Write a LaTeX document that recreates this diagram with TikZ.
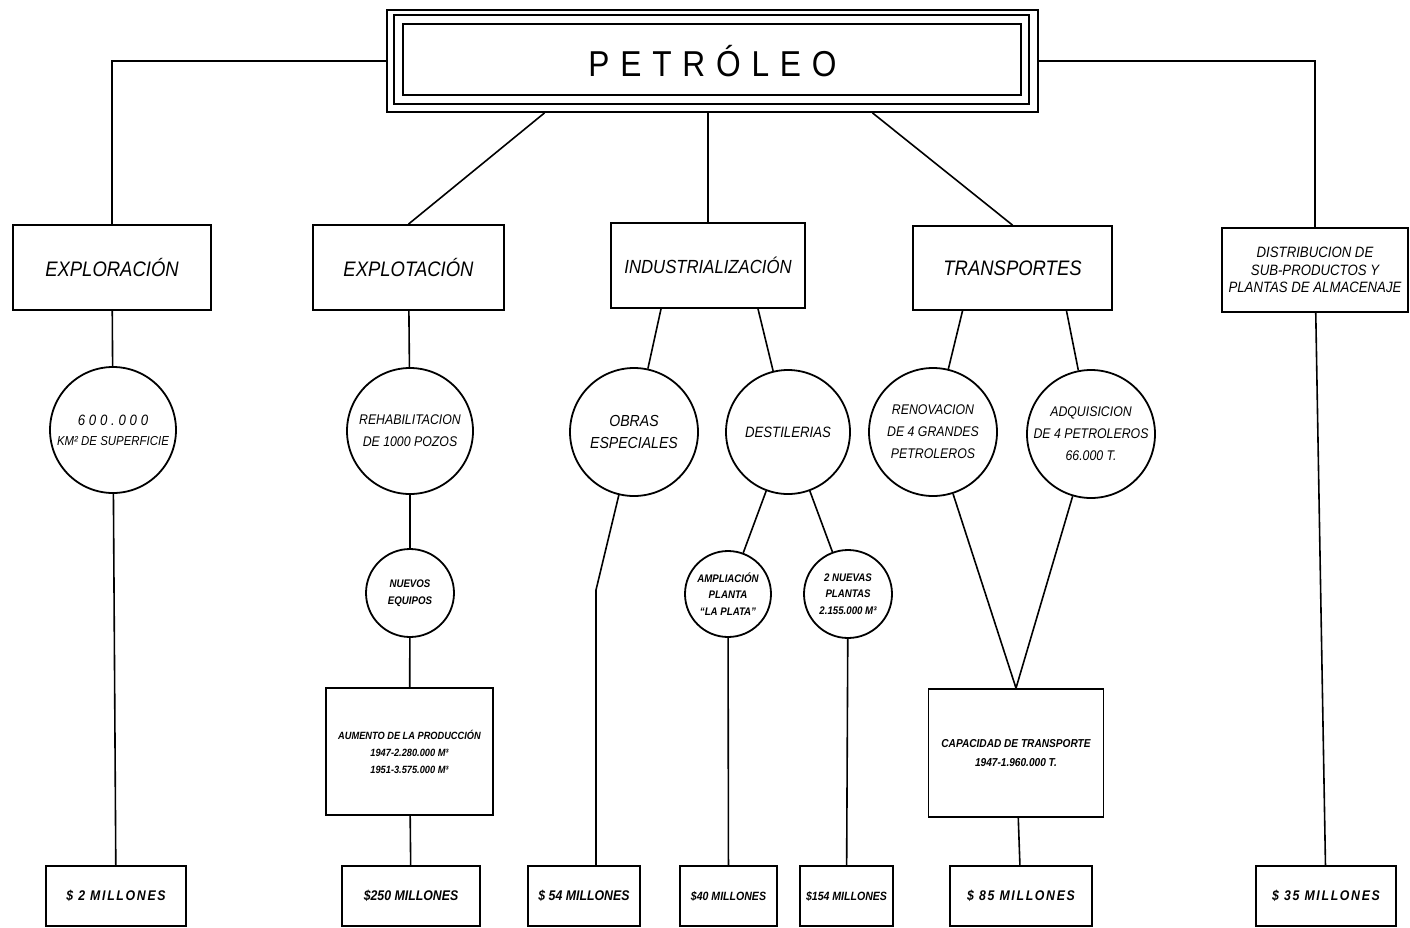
\documentclass[tikz,border=0pt]{standalone}
\usepackage{fontspec}
\newfontfamily\rotulo[FakeStretch=0.88]{Liberation Sans}
\usepackage{tikz}

\begin{document}
\begin{tikzpicture}[
        x=1pt, y=-1pt,
        caja/.style={rectangle, draw=black, line width=1.8pt, inner sep=0pt, align=center, font=\rotulo\itshape\fontsize{21}{24}\selectfont},
        circulo/.style={circle, draw=black, line width=1.8pt, inner sep=0pt, align=center, font=\rotulo\itshape\fontsize{14}{22}\selectfont},
        chico/.style={circulo, font=\rotulo\bfseries\itshape\fontsize{11}{16.5}\selectfont},
        monto/.style={caja, minimum height=60pt, font=\rotulo\bfseries\itshape\fontsize{14}{17}\selectfont},
        espaciado/.style={font=\rotulo\bfseries\itshape\addfontfeatures{LetterSpace=12}\fontsize{14}{17}\selectfont},
        linea/.style={line width=1.6pt}
    ]
    \useasboundingbox (0,0) rectangle (1410,927);

        \node[caja, minimum width=651pt, minimum height=102pt, font=\rotulo\addfontfeatures{LetterSpace=30}\fontsize{36}{40}\selectfont] (petroleo) at (712.5,61) {PETRÓLEO};
        \draw[line width=1.4pt] ([shift={(8,-9)}]petroleo.south west) rectangle ([shift={(-10,6)}]petroleo.north east);
        \draw[line width=2.6pt] ([shift={(17,-18)}]petroleo.south west) rectangle ([shift={(-18,15)}]petroleo.north east);

        \node[caja, minimum width=198pt, minimum height=85pt] (exploracion) at (112,267.5) {EXPLORACIÓN};
        \node[caja, minimum width=191pt, minimum height=85pt] (explotacion) at (408.5,267.5) {EXPLOTACIÓN};
        \node[caja, minimum width=194pt, minimum height=85pt, font=\rotulo\itshape\fontsize{19}{22}\selectfont] (industrial) at (708,265.5) {INDUSTRIALIZACIÓN};
        \node[caja, minimum width=199pt, minimum height=84pt] (transportes) at (1012.5,268) {TRANSPORTES};
        \node[caja, minimum width=186pt, minimum height=84pt, font=\rotulo\itshape\fontsize{15}{17.5}\selectfont] (distribucion) at (1315,270) {DISTRIBUCION DE\\SUB-PRODUCTOS Y\\PLANTAS DE ALMACENAJE};

        \node[circulo, minimum size=126pt, font=\rotulo\itshape\fontsize{13}{20}\selectfont] (superficie) at (113,430) {{\addfontfeatures{LetterSpace=25}\fontsize{15}{20}\selectfont 600.000}\\KM² DE SUPERFICIE};
        \node[circulo, minimum size=126pt] (rehab) at (410,431) {REHABILITACION\\DE 1000 POZOS};
        \node[chico, minimum size=88pt, font=\rotulo\bfseries\itshape\fontsize{11}{17}\selectfont] (equipos) at (410,593) {NUEVOS\\EQUIPOS};
        \node[caja, minimum width=167pt, minimum height=127pt, font=\rotulo\bfseries\itshape\fontsize{10.5}{17}\selectfont] (aumento) at (409.5,751.5) {AUMENTO DE LA PRODUCCIÓN\\1947-2.280.000 M³\\1951-3.575.000 M³};

        \node[circulo, minimum size=128pt, font=\rotulo\itshape\fontsize{16}{22}\selectfont] (obras) at (634,432) {OBRAS\\ESPECIALES};
        \node[circulo, minimum size=124pt, font=\rotulo\itshape\fontsize{15}{22}\selectfont] (destilerias) at (788,432) {DESTILERIAS};
        \node[chico, minimum size=86pt] (ampliacion) at (728,594) {AMPLIACIÓN\\PLANTA\\“LA PLATA”};
        \node[chico, minimum size=88pt] (plantas) at (848,594) {2 NUEVAS\\PLANTAS\\2.155.000 M³};
        \coordinate (quiebre) at (596,590);

        \node[circulo, minimum size=128pt] (renovacion) at (933,432) {RENOVACION\\DE 4 GRANDES\\PETROLEROS};
        \node[circulo, minimum size=128pt] (adquisicion) at (1091,434) {ADQUISICION\\DE 4 PETROLEROS\\66.000 T.};
        \node[caja, minimum width=175pt, minimum height=128pt, font=\rotulo\bfseries\itshape\fontsize{11.5}{19}\selectfont] (capacidad) at (1016,753) {CAPACIDAD DE TRANSPORTE\\1947-1.960.000 T.};

        \node[monto, espaciado, minimum width=140pt] (m2) at (116,896) {\$ 2 MILLONES};
        \node[monto, minimum width=138pt] (m250) at (411,896) {\$250 MILLONES};
        \node[monto, minimum width=112pt] (m54) at (584,896) {\$ 54 MILLONES};
        \node[monto, minimum width=97pt, font=\rotulo\bfseries\itshape\fontsize{12}{15}\selectfont] (m40) at (728.5,896) {\$40 MILLONES};
        \node[monto, minimum width=93pt, font=\rotulo\bfseries\itshape\fontsize{12}{15}\selectfont] (m154) at (846.5,896) {\$154 MILLONES};
        \node[monto, espaciado, minimum width=142pt] (m85) at (1021,896) {\$ 85 MILLONES};
        \node[monto, espaciado, minimum width=140pt] (m35) at (1326,896) {\$ 35 MILLONES};

        \draw[linea] (petroleo.west) -| (exploracion.north);
        \draw[linea] (petroleo.east) -| (distribucion.north);
        \draw[linea] ([xshift=-168pt]petroleo.south) -- (explotacion.north);
        \draw[linea] (industrial.north |- petroleo.south) -- (industrial.north);
        \draw[linea] ([xshift=160pt]petroleo.south) -- (transportes.north);

        \draw[linea] (exploracion) -- (superficie);
        \draw[linea] (superficie) -- (m2);

        \draw[linea] (explotacion) -- (rehab);
        \draw[linea] (rehab) -- (equipos);
        \draw[linea] (equipos) -- (aumento);
        \draw[linea] (aumento) -- (m250);

        \draw[linea] ([xshift=-47pt]industrial.south) -- (obras);
        \draw[linea] ([xshift=50pt]industrial.south) -- (destilerias);
        \draw[linea] (obras) -- (quiebre) -- (quiebre |- m54.north);
        \draw[linea] (destilerias) -- (ampliacion);
        \draw[linea] (destilerias) -- (plantas);
        \draw[linea] (ampliacion) -- (m40);
        \draw[linea] (plantas) -- (m154);

        \draw[linea] ([xshift=-50pt]transportes.south) -- (renovacion);
        \draw[linea] ([xshift=54pt]transportes.south) -- (adquisicion);
        \draw[linea] (renovacion) -- (capacidad.north);
        \draw[linea] (adquisicion) -- (capacidad.north);
        \draw[linea] (capacidad) -- (m85);

        \draw[linea] (distribucion) -- (m35);

    \end{tikzpicture}
\end{document}
